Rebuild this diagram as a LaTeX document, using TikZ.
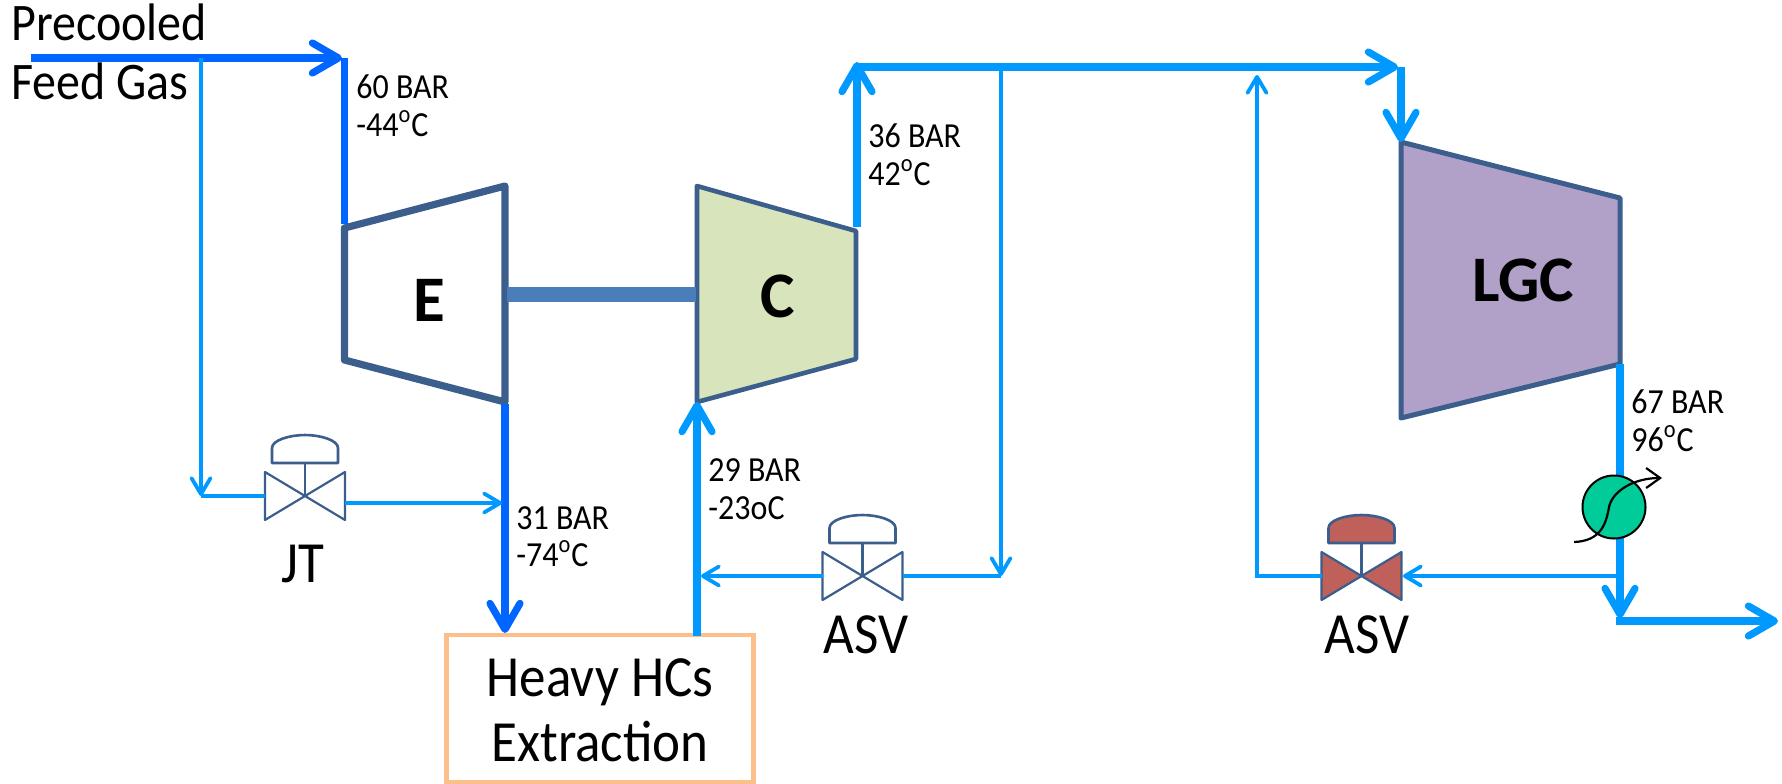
\documentclass[tikz,border=0pt]{standalone}
\usepackage{graphicx}
\usepackage{fontspec}
\setmainfont{Carlito}
\usetikzlibrary{arrows.meta}
\definecolor{deepflow}{HTML}{0066FF}
\definecolor{flow}{HTML}{0099FF}
\definecolor{edge}{HTML}{3B5E8C}
\definecolor{shaftc}{HTML}{4A7EBB}
\definecolor{boxc}{HTML}{FCBE8A}
\definecolor{cfill}{HTML}{D7E4BC}
\definecolor{lgcfill}{HTML}{B1A0C7}
\definecolor{redv}{HTML}{C0605A}
\definecolor{hxfill}{HTML}{00CC99}
\newcommand{\tallt}[1]{\scalebox{1}[1.1]{#1}}
\tikzset{
  x=0.5pt,y=-0.5pt,
  big/.style={-{Straight Barb[round,length=13pt,width=15pt,line width=3.6pt]},line width=3.8pt},
  thin/.style={-{Straight Barb[round,length=8pt,width=9.5pt,line width=1.9pt]},line width=2pt},
  flowline/.style={color=flow},
  deep/.style={color=deepflow},
  plain/.style={line width=3.8pt,line cap=butt},
  branch/.style={color=flow,line width=2pt},
  machine/.style={draw=edge,line join=round},
  lab/.style={anchor=base west,inner sep=0pt,font=\fontsize{16}{16}\selectfont},
  head text/.style={anchor=base west,inner sep=0pt,font=\fontsize{24}{24}\selectfont},
  big text/.style={anchor=base,inner sep=0pt,font=\fontsize{26.5}{26.5}\selectfont},
  tag/.style={anchor=base,inner sep=0pt,font=\fontsize{32.5}{32.5}\selectfont\bfseries},
  pics/valve/.style={code={
    \coordinate (-l) at (-40,0);
    \coordinate (-r) at (40,0);
    \draw[draw=edge,line width=1.1pt,fill=#1,line join=round] (-40,-24) -- (0,0) -- (-40,24) -- cycle;
    \draw[draw=edge,line width=1.1pt,fill=#1,line join=round] (40,-24) -- (0,0) -- (40,24) -- cycle;
    \draw[draw=edge,line width=1.1pt] (0,0) -- (0,-33);
    \draw[draw=edge,line width=1.3pt,fill=#1,line join=round] (-33,-33) -- (-33,-48) .. controls (-33,-56) and (-15,-61) .. (0,-61) .. controls (15,-61) and (33,-56) .. (33,-48) -- (33,-33) -- cycle;
  }}
}
\begin{document}
\begin{tikzpicture}
\useasboundingbox (0,0) rectangle (1782,783);
% junctions
\coordinate (feedS) at (31,58);
\coordinate (feedE) at (342,58);
\coordinate (feedC) at (344.5,58);
\coordinate (j1) at (201,58);
\coordinate (j1b) at (201,496);
\coordinate (ein) at (344.5,224);
\coordinate (eout) at (505,404);
\coordinate (eoutB) at (505,633);
\coordinate (jtin) at (502,503);
\coordinate (cin) at (697,402);
\coordinate (cinB) at (697,636);
\coordinate (mix) at (701,576);
\coordinate (cout) at (857,227);
\coordinate (coutT) at (857,62);
\coordinate (topL) at (855,67);
\coordinate (topR) at (1398,67);
\coordinate (topC) at (1401,67);
\coordinate (lin) at (1401,142);
\coordinate (asvT) at (1001,67);
\coordinate (asvB) at (1001,576);
\coordinate (retT) at (1257,75);
\coordinate (retB) at (1257,576);
\coordinate (lout) at (1620,364);
\coordinate (loutB) at (1620,618);
\coordinate (endS) at (1616,621);
\coordinate (endE) at (1778,621);
\coordinate (split) at (1620,576);
\coordinate (redin) at (1403,576);
% machines and box
\draw[machine,line width=3.6pt,fill=white] (344.5,228) -- (505,186) -- (505,402) -- (344.5,360) -- cycle;
\draw[machine,line width=2.3pt,fill=cfill] (697,186) -- (856,231) -- (856,359) -- (697,402) -- cycle;
\draw[machine,line width=2.5pt,fill=lgcfill] (1401,142) -- (1620,198) -- (1620,364) -- (1401,418) -- cycle;
\node[draw=boxc,line width=2.1pt,minimum width=153.5pt,minimum height=73.5pt,inner sep=0pt,fill=white] (hc) at (600,708.5) {};
\fill[shaftc] (507,287) rectangle (696,302);
% valves
\pic (jt) at (305,496) {valve=white};
\pic (asva) at (862.5,576) {valve=white};
\pic (asvb) at (1361.5,576) {valve=redv};
% process lines
\draw[big,deep] (feedS) -- (feedE);
\draw[plain,deep] (feedC) -- (ein);
\draw[big,deep] (eout) -- (eoutB);
\draw[big,flowline] (cinB) -- (cin);
\draw[big,flowline] (cout) -- (coutT);
\draw[big,flowline] (topL) -- (topR);
\draw[big,flowline] (topC) -- (lin);
\draw[big,flowline] (lout) -- (loutB);
\draw[big,flowline] (endS) -- (endE);
% thin lines
\draw[thin,flowline] (j1) -- (j1b);
\draw[branch] (j1b) -- (jt-l);
\draw[thin,flowline] (jt-r|-jtin) -- (jtin);
\draw[thin,flowline] (asva-l) -- (mix);
\draw[branch] (asva-r) -- (asvB);
\draw[thin,flowline] (asvT) -- (asvB);
\draw[thin,flowline] (split) -- (redin);
\draw[thin,flowline,line join=miter] (asvb-l) -- (retB) -- (retT);
% heat exchanger
\node[draw=black,line width=1pt,fill=hxfill,circle,minimum size=31.5pt,inner sep=0pt] (hx) at (1614,507) {};
\coordinate (hxS) at (1574,542);
\coordinate (hxE) at (1662,478);
\draw[black,line width=1.1pt,-{Straight Barb[length=7pt,width=10pt,line width=1.1pt]}] (hxS) .. controls (1600,541) and (1606,525) .. (1609,507) .. controls (1613,490) and (1635,478) .. (hxE);
% labels
\node[head text] (t1) at (11,40) {\tallt{Precooled}};
\node[head text] (t2) at (11,99) {\tallt{Feed Gas}};
\node[lab] (a1) at (356,98.5) {\tallt{60 BAR}};
\node[lab] (a2) at (356,136.5) {\tallt{-44\textsuperscript{o}C}};
\node[lab] (b1) at (516,529) {\tallt{31 BAR}};
\node[lab] (b2) at (516,566.5) {\tallt{-74\textsuperscript{o}C}};
\node[lab] (c1) at (708,481.5) {\tallt{29 BAR}};
\node[lab] (c2) at (708,519.5) {\tallt{-23oC}};
\node[lab] (d1) at (868,147.5) {\tallt{36 BAR}};
\node[lab] (d2) at (868,185.5) {\tallt{42\textsuperscript{o}C}};
\node[lab] (e1) at (1631,413.5) {\tallt{67 BAR}};
\node[lab] (e2) at (1631,451.5) {\tallt{96\textsuperscript{o}C}};
\node[tag] (E) at (429,321) {E};
\node[tag] (C) at (778,317) {C};
\node[tag] (LGC) at (1523,301) {LGC};
\node[big text] (jtt) at (303,582) {\tallt{JT}};
\node[big text] (asv1) at (866,653) {\tallt{ASV}};
\node[big text] (asv2) at (1367,653) {\tallt{ASV}};
\node[big text] (h1) at (600,696) {\tallt{Heavy HCs}};
\node[big text] (h2) at (600,761) {\tallt{Extraction}};
\end{tikzpicture}
\end{document}
